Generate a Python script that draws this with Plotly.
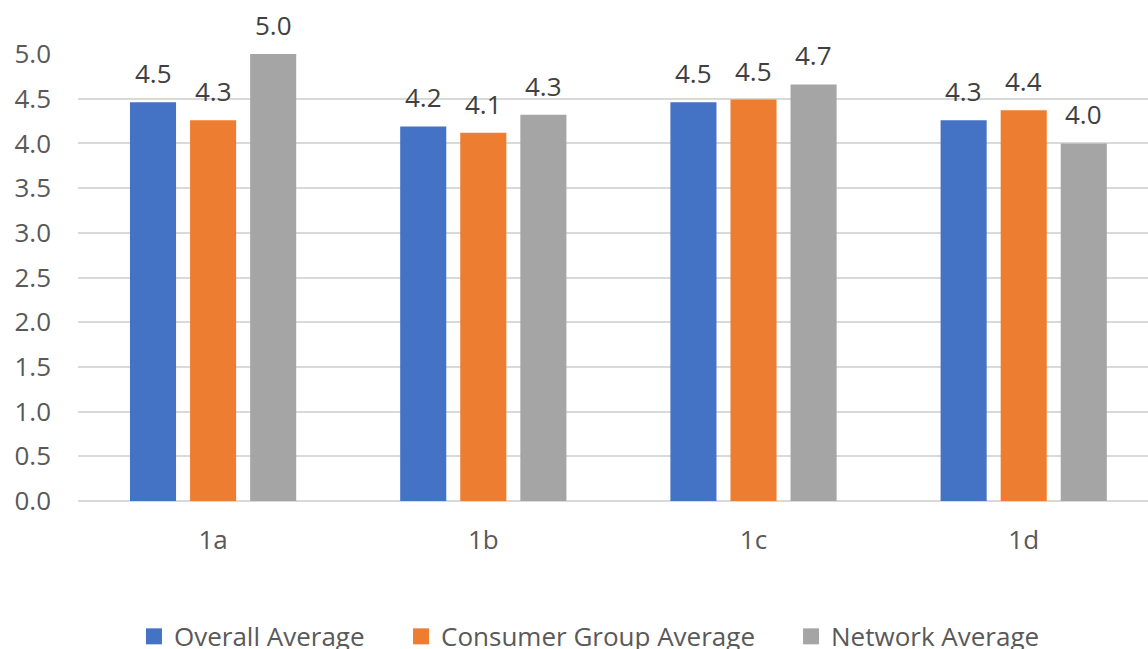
import plotly.graph_objects as go

categories = ["1a", "1b", "1c", "1d"]
overall_avg = [4.46, 4.19, 4.46, 4.26]
consumer_avg = [4.26, 4.12, 4.49, 4.37]
network_avg = [5.0, 4.32, 4.66, 4.0]
y_ticks = [0.0, 0.5, 1.0, 1.5, 2.0, 2.5, 3.0, 3.5, 4.0, 4.5, 5.0]

series = [
    ("Overall Average", overall_avg, "#4472C4"),
    ("Consumer Group Average", consumer_avg, "#ED7D31"),
    ("Network Average", network_avg, "#A5A5A5"),
]

FONT = "Open Sans"
TEXT_SIZE = 26
LEGEND_SIZE = 26
BARGAP = 0.333
# left edge of each legend box, in plot-area fraction
legend_x = [0.0523, 0.3019, 0.6664]

fig = go.Figure()
for k, (name, vals, color) in enumerate(series):
    fig.add_trace(go.Bar(
        x=categories, y=vals, name=name,
        marker=dict(color=color, line=dict(width=0)),
        showlegend=False, hoverinfo="x+y+name",
    ))

# square swatches for the legend row
for k, (name, vals, color) in enumerate(series):
    fig.add_trace(go.Scatter(
        x=[None], y=[None], name=name, mode="markers",
        marker=dict(symbol="square", size=16, color=color, line=dict(width=0)),
        legend="legend" if k == 0 else f"legend{k + 1}",
        showlegend=True,
    ))

# value labels above each bar, placed at the bar's group offset
n = len(series)
slot = (1 - BARGAP) / n
annotations = []
for k, (name, vals, color) in enumerate(series):
    off = (k - (n - 1) / 2) * slot
    for i, v in enumerate(vals):
        annotations.append(dict(
            x=i + off, y=v, xref="x", yref="y",
            text=f"{v:.1f}", showarrow=False,
            yanchor="middle", yshift=29,
            font=dict(family=FONT, size=TEXT_SIZE, color="#404040"),
        ))

legend_style = dict(
    orientation="h", xanchor="left", y=-0.303, yanchor="middle",
    font=dict(family=FONT, size=LEGEND_SIZE, color="#595959"),
    itemclick=False, itemdoubleclick=False, bgcolor="rgba(0,0,0,0)",
)

fig.update_layout(
    width=1148, height=649,
    margin=dict(l=78, r=0, t=54, b=148, autoexpand=False),
    paper_bgcolor="white", plot_bgcolor="white",
    barmode="group", bargap=BARGAP, bargroupgap=0.233,
    font=dict(family=FONT, size=TEXT_SIZE, color="#595959"),
    annotations=annotations,
    showlegend=True,
    legend=dict(x=legend_x[0], **legend_style),
    legend2=dict(x=legend_x[1], **legend_style),
    legend3=dict(x=legend_x[2], **legend_style),
    xaxis=dict(
        type="category", range=[-0.5, 3.46],
        showgrid=False, showline=False, zeroline=False,
        ticks="", ticklabelstandoff=21,
        tickfont=dict(family=FONT, size=TEXT_SIZE, color="#595959"),
    ),
    yaxis=dict(
        range=[0, 5.0], tickvals=y_ticks, tickformat=".1f",
        showgrid=True, gridcolor="#D9D9D9", gridwidth=2,
        zeroline=True, zerolinecolor="#D9D9D9", zerolinewidth=2,
        showline=False, ticks="", ticklabelstandoff=26,
        tickfont=dict(family=FONT, size=TEXT_SIZE, color="#595959"),
    ),
)

fig.write_html("out.html")
